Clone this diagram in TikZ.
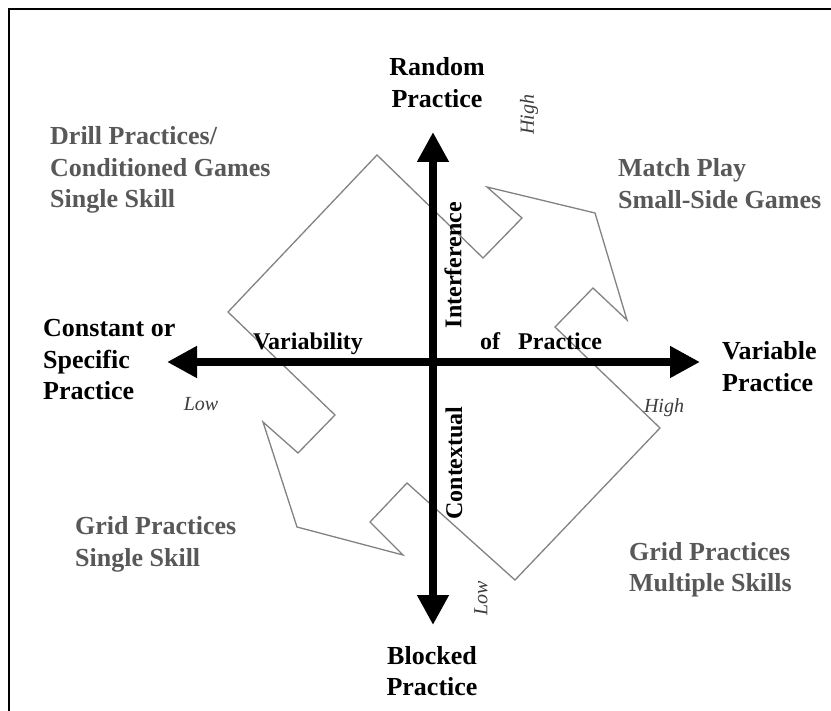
\documentclass[tikz,border=0pt]{standalone}
\usepackage{fontspec}
\setmainfont{Liberation Serif}
\usetikzlibrary{arrows.meta}
\definecolor{labgray}{RGB}{88,88,88}
\definecolor{linegray}{RGB}{130,130,130}
\definecolor{smallgray}{RGB}{60,60,60}
\tikzset{
  axis/.style={line width=8pt, {Triangle[length=30pt,width=30pt]}-{Triangle[length=30pt,width=30pt]}},
  big/.style={font=\fontsize{26}{31.5}\selectfont\bfseries, inner sep=0pt},
  biglab/.style={big, text=black},
  graylab/.style={big, text=labgray},
  axlab/.style={font=\fontsize{24}{28}\selectfont\bfseries, inner sep=0pt},
  smalllab/.style={font=\fontsize{20}{24}\selectfont\itshape, inner sep=0pt, text=smallgray},
  outline/.style={draw=linegray, line width=1.3pt, line join=miter}
}
\begin{document}
\begin{tikzpicture}[x=1pt,y=-1pt]
\useasboundingbox (0,0) rectangle (831,711);
\fill[white] (0,0) rectangle (831,711);
% frame
\draw[line width=2.5pt] (9,711) -- (9,9) -- (831,9);
% cyclic arrow outline
\draw[outline] (377,155) -- (483,258) -- (522,218) -- (487,187) -- (595,213)
  -- (627,320) -- (593,288) -- (555,327) -- (660,428) -- (515,580)
  -- (407,483) -- (370,522) -- (403,555) -- (297,527) -- (263,422)
  -- (298,453) -- (335,415) -- (228,312) -- cycle;
% axes
\coordinate (top) at (433,132);
\coordinate (bottom) at (433,625);
\coordinate (left) at (167,362);
\coordinate (right) at (700,362);
\draw[axis] (bottom) -- (top);
\draw[axis] (left) -- (right);
% end labels
\node[biglab, anchor=base] (random) at (437,76) {\begin{tabular}[t]{@{}c@{}}Random\\Practice\end{tabular}};
\node[biglab, anchor=base] (blocked) at (432,664) {\begin{tabular}[t]{@{}c@{}}Blocked\\Practice\end{tabular}};
\node[biglab, anchor=base west] (constant) at (43,337) {\begin{tabular}[t]{@{}l@{}}Constant or\\Specific\\Practice\end{tabular}};
\node[biglab, anchor=base west] (variable) at (722,360) {\begin{tabular}[t]{@{}l@{}}Variable\\Practice\end{tabular}};
% quadrant labels
\node[graylab, anchor=base west] (drill) at (50,145) {\begin{tabular}[t]{@{}l@{}}Drill Practices/\\Conditioned Games\\Single Skill\end{tabular}};
\node[graylab, anchor=base west] (match) at (618,177) {\begin{tabular}[t]{@{}l@{}}Match Play\\Small-Side Games\end{tabular}};
\node[graylab, anchor=base west] (gridsingle) at (75,535) {\begin{tabular}[t]{@{}l@{}}Grid Practices\\Single Skill\end{tabular}};
\node[graylab, anchor=base west] (gridmulti) at (629,560) {\begin{tabular}[t]{@{}l@{}}Grid Practices\\Multiple Skills\end{tabular}};
% axis captions
\node[axlab, anchor=base] (variability) at (308,350) {Variability};
\node[axlab, anchor=base west] (ofpractice) at (480,350) {of\ \hspace{12pt}Practice};
\node[axlab, rotate=90] (interference) at (453,265) {Interference};
\node[axlab, rotate=90] (contextual) at (454,463) {Contextual};
% low / high
\node[smalllab] (lowleft) at (201,404) {Low};
\node[smalllab] (highright) at (664,408) {High};
\node[smalllab, rotate=90] (hightop) at (529,115) {High};
\node[smalllab, rotate=90] (lowbottom) at (481,598) {Low};
\end{tikzpicture}
\end{document}
